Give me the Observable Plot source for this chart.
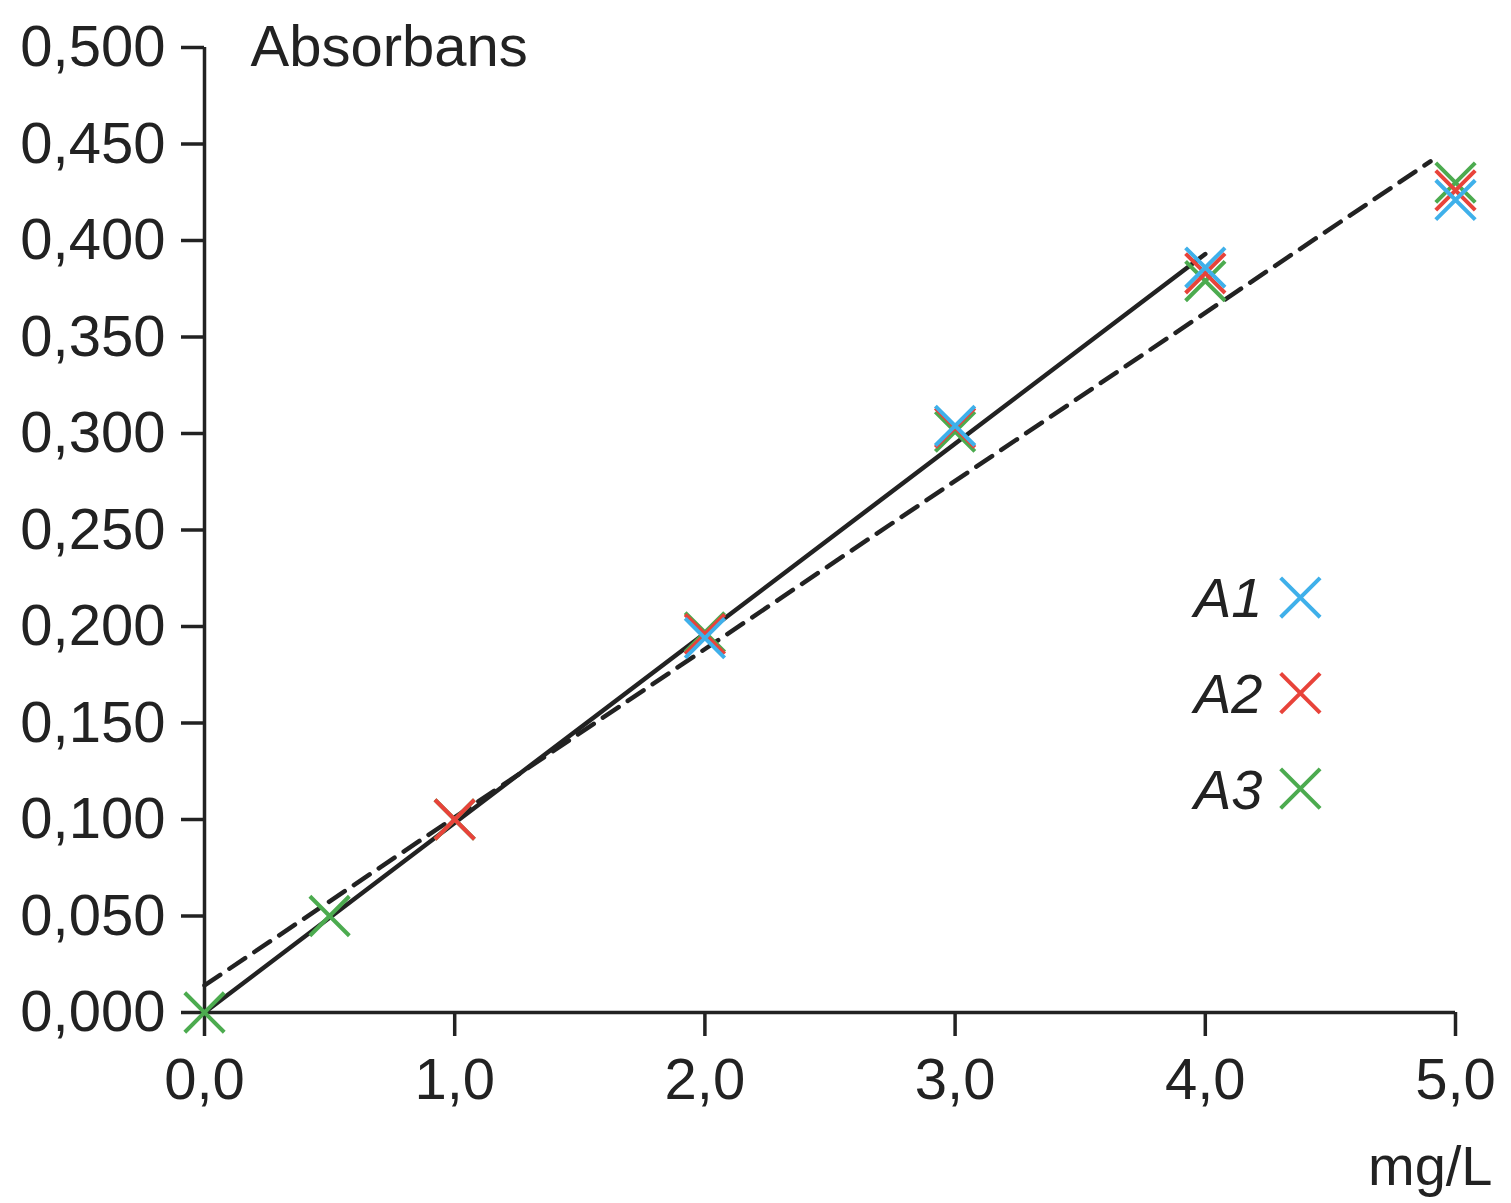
<!DOCTYPE html>
<html>
<head>
<meta charset="utf-8">
<script src="https://cdn.jsdelivr.net/npm/d3@7"></script>
<script src="https://cdn.jsdelivr.net/npm/@observablehq/plot@0.6"></script>
<style>
  html, body { margin: 0; padding: 0; background: #fff; }
  #chart svg { display: block; }
</style>
</head>
<body>
<div id="chart"></div>
<script>
// ---- data ----
const concentrations = [0, 0.5, 1, 2, 3, 4, 5];
const seriesNames = ["A1", "A2", "A3"];
const seriesColors = ["#3fb0ea", "#e8433a", "#4cab4f"];
const A1 = [null, null, null, 0.194, 0.304, 0.386, 0.421];
const A2 = [null, null, 0.100, 0.196, 0.303, 0.383, 0.426];
const A3 = [0.000, 0.050, 0.100, 0.197, 0.301, 0.379, 0.430];
const solidLineX = [0, 4.0];
const solidLineY = [0.000, 0.393];
const dashedLineX = [0, 4.9];
const dashedLineY = [0.014, 0.441];
const xTicks = [0, 1, 2, 3, 4, 5];
const yTicks = [0, 0.05, 0.1, 0.15, 0.2, 0.25, 0.3, 0.35, 0.4, 0.45, 0.5];
const yTitle = "Absorbans";
const xTitle = "mg/L";

// ---- build tables ----
const seriesValues = [A1, A2, A3];
// draw order: A3 (bottom), A2, A1 (top)
const points = [];
[2, 1, 0].forEach(si => {
  concentrations.forEach((c, i) => {
    const v = seriesValues[si][i];
    if (v != null) points.push({x: c, y: v, series: seriesNames[si]});
  });
});
const solid = solidLineX.map((x, i) => ({x, y: solidLineY[i]}));
const dashed = dashedLineX.map((x, i) => ({x, y: dashedLineY[i]}));
const legend = seriesNames.map((name, i) => ({name, x: 4.38, y: 0.215 - i * 0.0495}));

const comma = s => s.replace(".", ",");
const font = "'Liberation Sans', Arial, Helvetica, sans-serif";
const ink = "#222";

const chart = Plot.plot({
  width: 1511,
  height: 1203,
  marginLeft: 204,
  marginRight: 56,
  marginTop: 47,
  marginBottom: 191,
  x: {domain: [0, 5]},
  y: {domain: [0, 0.5]},
  color: {domain: seriesNames, range: seriesColors},
  style: {fontFamily: font, fontSize: "58px", color: ink, background: "#fff", overflow: "visible"},
  marks: [
    Plot.axisY({ticks: yTicks, tickSize: 23, tickPadding: 16, tickFormat: d => comma(d3.format(".3f")(d)),
      fontSize: 58, strokeWidth: 3.5, stroke: ink, fill: ink, label: null}),
    Plot.axisX({ticks: xTicks, tickSize: 24, tickPadding: 21, tickFormat: d => comma(d3.format(".1f")(d)),
      fontSize: 58, strokeWidth: 3.5, stroke: ink, fill: ink, label: null}),
    Plot.ruleX([0], {stroke: ink, strokeWidth: 3.5}),
    Plot.ruleY([0], {stroke: ink, strokeWidth: 3.5}),
    Plot.line(dashed, {x: "x", y: "y", stroke: ink, strokeWidth: 4.5, strokeDasharray: "19,11"}),
    Plot.line(solid, {x: "x", y: "y", stroke: ink, strokeWidth: 4.5}),
    Plot.dot(points, {x: "x", y: "y", stroke: "series", symbol: "times", r: 18, strokeWidth: 4}),
    Plot.dot(legend, {x: "x", y: "y", stroke: "name", symbol: "times", r: 18, strokeWidth: 4}),
    Plot.text(legend, {x: "x", y: "y", text: "name", dx: -38, dy: 2, textAnchor: "end", fontSize: 56,
      fontStyle: "italic", fill: ink, letterSpacing: "-3px"}),
    Plot.text([yTitle], {frameAnchor: "top-left", lineAnchor: "middle", dx: 46, dy: 0, textAnchor: "start", fontSize: 58, fill: ink}),
    Plot.text([xTitle], {frameAnchor: "bottom-right", lineAnchor: "middle", dx: 37, dy: 155, textAnchor: "end", fontSize: 56, fill: ink})
  ]
});
document.getElementById("chart").appendChild(chart);
</script>
</body>
</html>
